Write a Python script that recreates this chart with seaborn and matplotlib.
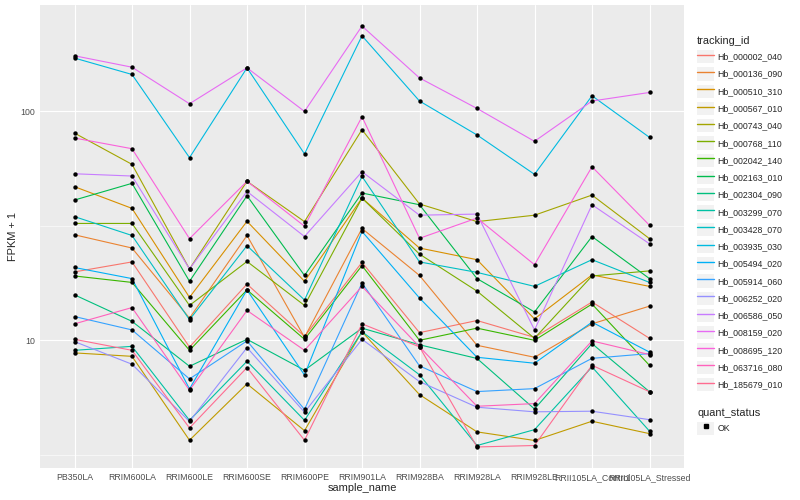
import numpy as np
import pandas as pd
import matplotlib
matplotlib.use("Agg")
import matplotlib.pyplot as plt
import seaborn as sns
from matplotlib.lines import Line2D
from matplotlib.patches import Patch
from matplotlib.legend_handler import HandlerTuple

# samples on the x axis
samples = ["PB350LA", "RRIM600LA", "RRIM600LE", "RRIM600SE", "RRIM600PE", "RRIM901LA",
           "RRIM928BA", "RRIM928LA", "RRIM928LE", "RRII105LA_Control", "RRII105LA_Stressed"]

# FPKM + 1 per transcript
hb_000002_040 = [19.9, 22.0, 9.34, 17.6, 10.4, 21.9, 10.8, 12.2, 10.3, 14.7, 10.2]
hb_000136_090 = [28.9, 25.3, 12.5, 28.7, 10.3, 30.8, 19.2, 9.51, 8.43, 11.8, 14.1]
hb_000510_310 = [46.9, 37.7, 15.4, 33.1, 18.1, 41.8, 25.3, 22.5, 12.4, 19.3, 17.2]
hb_000567_010 = [8.81, 8.51, 3.66, 6.45, 4.03, 10.9, 5.79, 3.98, 3.65, 4.43, 3.91]
hb_000743_040 = [80.4, 58.7, 20.5, 49.5, 33.0, 83.2, 39.4, 33.0, 35.2, 43.1, 27.8]
hb_000768_110 = [32.4, 32.4, 14.2, 22.1, 14.2, 41.8, 23.8, 16.4, 10.2, 19.1, 20.1]
hb_002042_140 = [19.1, 17.9, 9.04, 16.6, 10.1, 21.2, 10.0, 11.3, 10.0, 14.4, 7.77]
hb_002163_010 = [41.0, 48.5, 18.1, 42.8, 19.2, 44.0, 39.1, 18.6, 13.3, 28.4, 18.6]
hb_002304_090 = [15.8, 12.1, 7.70, 10.1, 7.40, 11.3, 9.56, 8.33, 5.01, 9.67, 5.96]
hb_003299_070 = [9.04, 9.41, 4.47, 8.10, 4.47, 10.9, 7.07, 3.47, 4.07, 7.65, 4.01]
hb_003428_070 = [34.7, 28.7, 12.3, 25.9, 15.0, 52.0, 22.0, 19.8, 17.2, 22.5, 17.9]
hb_003935_030 = [171, 145, 62.8, 155, 65.2, 214, 111, 78.9, 53.1, 117, 77.0]
hb_005494_020 = [20.8, 18.6, 6.13, 16.6, 7.05, 29.9, 15.3, 8.43, 7.94, 12.0, 8.88]
hb_005914_060 = [12.7, 11.1, 6.78, 9.94, 4.99, 17.8, 7.73, 5.97, 6.15, 8.34, 8.75]
hb_006252_020 = [9.87, 7.86, 4.42, 9.29, 4.85, 10.1, 6.60, 5.10, 4.87, 4.90, 4.50]
hb_006586_050 = [53.4, 52.2, 20.5, 44.7, 28.4, 54.5, 35.2, 35.6, 11.1, 39.1, 26.4]
hb_008159_020 = [175, 156, 108, 155, 100, 236, 140, 103, 74.0, 111, 121]
hb_008695_120 = [76.5, 68.7, 27.8, 49.5, 31.5, 94.8, 27.9, 34.2, 21.4, 57.3, 31.8]
hb_063716_080 = [11.8, 13.9, 6.05, 13.5, 9.04, 17.2, 9.36, 5.15, 5.29, 9.94, 8.66]
hb_185679_010 = [10.1, 9.04, 4.14, 7.60, 3.66, 11.8, 9.36, 3.42, 3.47, 7.78, 5.96]

series = {
    "Hb_000002_040": hb_000002_040, "Hb_000136_090": hb_000136_090,
    "Hb_000510_310": hb_000510_310, "Hb_000567_010": hb_000567_010,
    "Hb_000743_040": hb_000743_040, "Hb_000768_110": hb_000768_110,
    "Hb_002042_140": hb_002042_140, "Hb_002163_010": hb_002163_010,
    "Hb_002304_090": hb_002304_090, "Hb_003299_070": hb_003299_070,
    "Hb_003428_070": hb_003428_070, "Hb_003935_030": hb_003935_030,
    "Hb_005494_020": hb_005494_020, "Hb_005914_060": hb_005914_060,
    "Hb_006252_020": hb_006252_020, "Hb_006586_050": hb_006586_050,
    "Hb_008159_020": hb_008159_020, "Hb_008695_120": hb_008695_120,
    "Hb_063716_080": hb_063716_080, "Hb_185679_010": hb_185679_010,
}

# ggplot2 default hue palette for 20 levels
palette = ["#F8766D", "#EA8331", "#D89000", "#C09B00", "#A3A500", "#7CAE00", "#39B600",
           "#00BB4E", "#00BF7D", "#00C1A3", "#00BFC4", "#00BAE0", "#00B0F6", "#35A2FF",
           "#9590FF", "#C77CFF", "#E76BF3", "#FA62DB", "#FF62BC", "#FF6C91"]
ids = list(series.keys())

rows = []
for tid, vals in series.items():
    for s, v in zip(samples, vals):
        rows.append({"tracking_id": tid, "sample_name": s, "fpkm1": v, "quant_status": "OK"})
df = pd.DataFrame(rows)

sns.set_style("darkgrid")
plt.rcParams["font.family"] = ["Liberation Sans", "DejaVu Sans"]

fig = plt.figure(figsize=(8, 5), dpi=100)
ax = fig.add_axes([40 / 800, 32 / 500, 644 / 800, 463 / 500])
ax.set_facecolor("#EBEBEB")

sns.lineplot(data=df, x="sample_name", y="fpkm1", hue="tracking_id", hue_order=ids,
             palette=palette, sort=False, estimator=None, legend=False, lw=0.8, ax=ax)
sns.scatterplot(data=df, x="sample_name", y="fpkm1", color="black", s=10, linewidth=0,
                legend=False, ax=ax, zorder=3)

ax.set_yscale("log")
lo, hi = np.log10(df["fpkm1"].min()), np.log10(df["fpkm1"].max())
pad = (hi - lo) * 0.05
ax.set_ylim(10 ** (lo - pad), 10 ** (hi + pad))
ax.set_xlim(-0.6, len(samples) - 0.4)

ax.set_yticks([10, 100])
ax.set_yticklabels(["10", "100"])
ax.set_yticks([10 ** 0.5, 10 ** 1.5], minor=True)
ax.yaxis.set_minor_formatter(matplotlib.ticker.NullFormatter())
ax.grid(which="major", color="white", lw=0.8)
ax.grid(which="minor", axis="y", color="white", lw=0.4)
ax.tick_params(axis="both", which="major", length=2, width=0.6, color="#333333",
               labelsize=6.3, labelcolor="#4D4D4D", pad=1.5)
ax.tick_params(axis="y", which="minor", length=0)
for sp in ax.spines.values():
    sp.set_visible(False)

ax.set_xlabel("sample_name", fontsize=7.9, labelpad=1)
ax.set_ylabel("FPKM + 1", fontsize=7.9, labelpad=2)

# legends in the ggplot style
key_bg = "#F2F2F2"
handles = [(Patch(facecolor=key_bg, edgecolor="none"), Line2D([], [], color=c, lw=1.0))
           for c in palette]
leg1 = ax.legend(handles, ids, title="tracking_id", loc="upper left",
                 bbox_to_anchor=(697 / 800, 1 - 36 / 500), bbox_transform=fig.transFigure,
                 frameon=False, fontsize=6.3, title_fontsize=7.9, alignment="left",
                 handlelength=1.95, handleheight=1.95, handletextpad=0.4,
                 labelspacing=0.46, borderpad=0, borderaxespad=0,
                 handler_map={tuple: HandlerTuple(ndivide=1, pad=0)})
ax.add_artist(leg1)
ok_handle = [(Patch(facecolor=key_bg, edgecolor="none"),
              Line2D([], [], color="black", marker="s", ls="none", markersize=2.6))]
leg2 = ax.legend(ok_handle, ["OK"], title="quant_status", loc="upper left",
                 bbox_to_anchor=(697 / 800, 1 - 408 / 500), bbox_transform=fig.transFigure,
                 frameon=False, fontsize=6.3, title_fontsize=7.9, alignment="left",
                 handlelength=1.95, handleheight=1.95, handletextpad=0.4,
                 labelspacing=0.42, borderpad=0, borderaxespad=0,
                 handler_map={tuple: HandlerTuple(ndivide=1, pad=0)})

fig.savefig("out.png", dpi=100)
